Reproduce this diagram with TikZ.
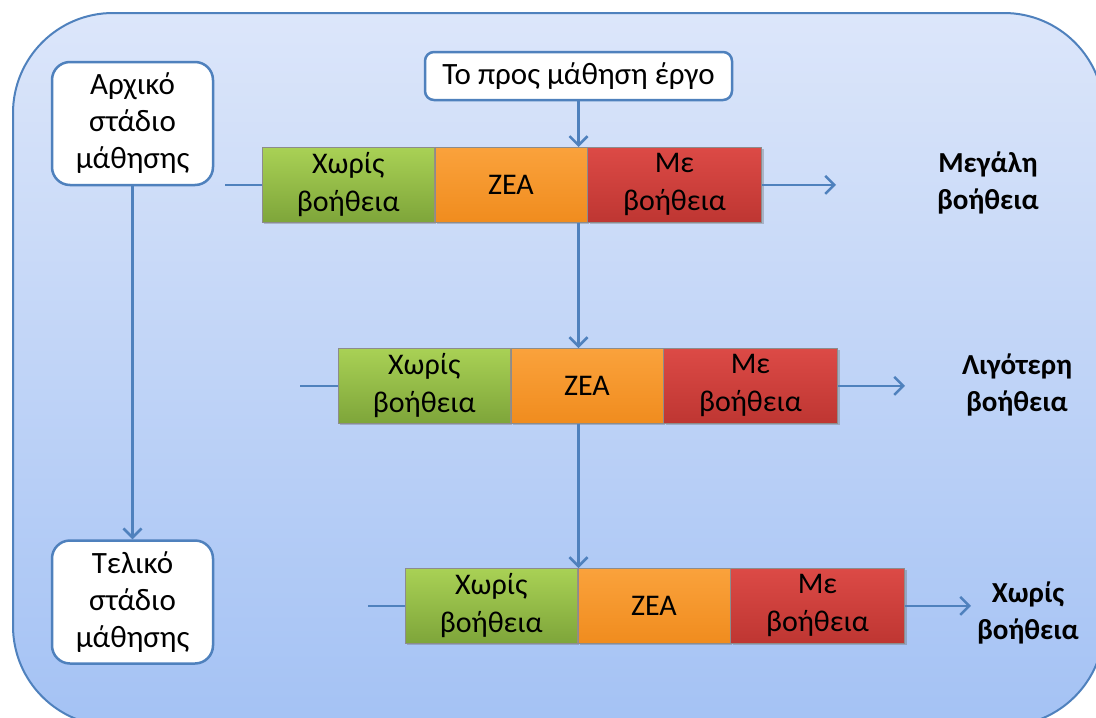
\documentclass[tikz,border=0pt]{standalone}
\usepackage{fontspec}
\setmainfont{Carlito}
\usetikzlibrary{arrows.meta,shadows,calc}
\definecolor{edge}{HTML}{4F81BD}
\definecolor{bgtop}{HTML}{DCE6FA}
\definecolor{bgbot}{HTML}{A4C2F4}
\definecolor{gtop}{HTML}{A9D155}
\definecolor{gbot}{HTML}{7EA53A}
\definecolor{otop}{HTML}{FAA23C}
\definecolor{obot}{HTML}{F08C1E}
\definecolor{rtop}{HTML}{DC4A46}
\definecolor{rbot}{HTML}{BE3632}
\tikzset{
  stagebox/.style={draw=edge, line width=2.5pt, fill=white, rounded corners=18pt,
    minimum width=161pt, minimum height=123pt, align=center, inner sep=0pt,
    font=\fontsize{31}{37}\selectfont},
  taskbox/.style={draw=edge, line width=2.5pt, fill=white, rounded corners=9pt,
    minimum width=307pt, minimum height=48pt, inner sep=0pt,
    font=\fontsize{31}{34}\selectfont},
  seg/.style={draw=black!45, line width=0.6pt, minimum height=75pt, inner sep=0pt,
    align=center, font=\fontsize{30}{38}\selectfont,
    drop shadow={shadow xshift=2pt, shadow yshift=-2pt, opacity=0.35, fill=black!60}},
  gseg/.style={seg, minimum width=172pt, top color=gtop, bottom color=gbot},
  oseg/.style={seg, minimum width=152pt, top color=otop, bottom color=obot},
  rseg/.style={seg, minimum width=174pt, top color=rtop, bottom color=rbot},
  conn/.style={draw=edge, line width=2.5pt},
  arr/.style={conn, -{Straight Barb[length=9pt,width=18pt,line width=2.5pt]}},
  outcome/.style={align=center, font=\bfseries\fontsize{29}{37}\selectfont},
}
\begin{document}
\begin{tikzpicture}[x=1pt,y=-1pt]
\useasboundingbox (0,0) rectangle (1096,718);
\begin{scope}
\clip (0,0) rectangle (1096,718);
\draw[draw=edge, line width=2pt, rounded corners=100pt, top color=bgtop, bottom color=bgbot]
  (13,13) rectangle (1104,726);
\end{scope}

% left stage boxes
\node[stagebox] (start) at (132.5,123.5) {Αρχικό\\στάδιο\\μάθησης};
\node[stagebox] (final) at (132.5,602) {Τελικό\\στάδιο\\μάθησης};
\draw[arr] (start.south) -- (final.north);

% task
\node[taskbox] (task) at (578.5,76) {Το προς μάθηση έργο};

% bar 1
\node[gseg, anchor=north west] (g1) at (262,147) {Χωρίς\\βοήθεια};
\node[oseg, anchor=north west] (o1) at (g1.north east) {ΖΕΑ};
\node[rseg, anchor=north west] (r1) at (o1.north east) {Με\\βοήθεια};
% bar 2
\node[gseg, anchor=north west] (g2) at (338,348) {Χωρίς\\βοήθεια};
\node[oseg, anchor=north west] (o2) at (g2.north east) {ΖΕΑ};
\node[rseg, anchor=north west] (r2) at (o2.north east) {Με\\βοήθεια};
% bar 3
\node[gseg, anchor=north west] (g3) at (405,568) {Χωρίς\\βοήθεια};
\node[oseg, anchor=north west] (o3) at (g3.north east) {ΖΕΑ};
\node[rseg, anchor=north west] (r3) at (o3.north east) {Με\\βοήθεια};

% vertical flow
\draw[arr] (task.south) -- (task.south |- g1.north);
\draw[arr] (task.south |- g1.south) -- (task.south |- g2.north);
\draw[arr] (task.south |- g2.south) -- (task.south |- g3.north);

% left lead-ins
\coordinate (l1) at (225,0);
\coordinate (l2) at (300,0);
\coordinate (l3) at (368,0);
\draw[conn] (l1 |- g1.west) -- (g1.west);
\draw[conn] (l2 |- g2.west) -- (g2.west);
\draw[conn] (l3 |- g3.west) -- (g3.west);

% outputs
\coordinate (e1) at (836,0);
\coordinate (e2) at (905,0);
\coordinate (e3) at (971,0);
\draw[arr] (r1.east) -- (e1 |- r1.east);
\draw[arr] (r2.east) -- (e2 |- r2.east);
\draw[arr] (r3.east) -- (e3 |- r3.east);

\node[outcome] (big) at (988,183) {Μεγάλη\\βοήθεια};
\node[outcome] (less) at (1017,385) {Λιγότερη\\βοήθεια};
\node[outcome] (none) at (1028,613) {Χωρίς\\βοήθεια};
\end{tikzpicture}
\end{document}
